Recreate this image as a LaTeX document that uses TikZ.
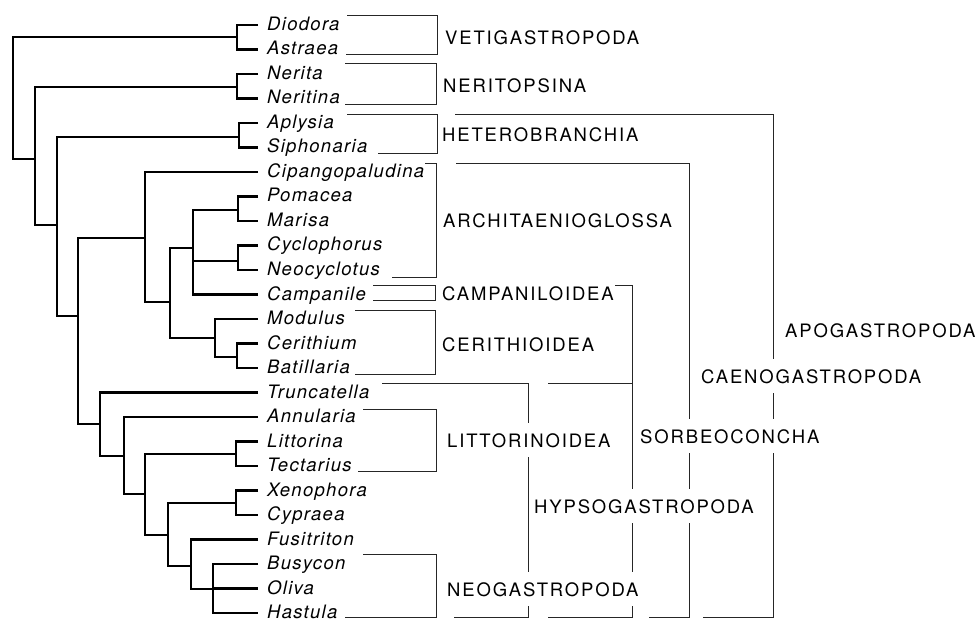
\documentclass[tikz,border=0pt]{standalone}
\usepackage{fontspec}
\newfontfamily\labfont{TeX Gyre Heros}[LetterSpace=10]
\newfontfamily\taxfont{TeX Gyre Heros}[LetterSpace=7]
\begin{document}
\begin{tikzpicture}[x=1pt,y=-1pt,
  tree/.style={line width=2.2pt, line join=miter},
  brk/.style={line width=0.9pt, black!85},
  taxon/.style={anchor=base west, inner sep=0pt, font=\taxfont\itshape\fontsize{18.5}{20}\selectfont},
  clade/.style={anchor=base west, inner xsep=1pt, inner ysep=10pt, font=\labfont\fontsize{18.5}{20}\selectfont},
  knock/.style={fill=white}]
\useasboundingbox (0,0) rectangle (976,620);

% leaves
\foreach \nm [count=\i from 0] in {Diodora,Astraea,Nerita,Neritina,Aplysia,Siphonaria,Cipangopaludina,Pomacea,Marisa,Cyclophorus,Neocyclotus,Campanile,Modulus,Cerithium,Batillaria,Truncatella,Annularia,Littorina,Tectarius,Xenophora,Cypraea,Fusitriton,Busycon,Oliva,Hastula}{
  \pgfmathsetmacro\yy{25+24.5*\i}
  \coordinate (t\i) at (258,\yy);
  \node[taxon] (n\i) at (267,\yy+5.5) {\nm};
}

% internal nodes (x, stem y)
\coordinate (R) at (13,100);
\coordinate (A) at (237,37);
\coordinate (B) at (35,159);
\coordinate (N) at (237,87);
\coordinate (C) at (57,225);
\coordinate (H) at (239,137);
\coordinate (D) at (78,316);
\coordinate (E) at (145,238);
\coordinate (F) at (170,302);
\coordinate (G) at (193,248);
\coordinate (PM) at (238,210);
\coordinate (CN) at (238,261);
\coordinate (K) at (215,338);
\coordinate (CB) at (237,357);
\coordinate (L) at (100,424);
\coordinate (M) at (124,456);
\coordinate (P) at (145,494);
\coordinate (LT) at (236,454);
\coordinate (Q) at (168,535);
\coordinate (XC) at (236,503);
\coordinate (S) at (191,566);
\coordinate (T) at (213,589);

\begin{scope}[tree]
\draw (t0) -| (A) |- (t1);
\draw (t2) -| (N) |- (t3);
\draw (t4) -| (H) |- (t5);
\draw (t7) -| (PM) |- (t8);
\draw (t9) -| (CN) |- (t10);
\draw (t13) -| (CB) |- (t14);
\draw (t17) -| (LT) |- (t18);
\draw (t19) -| (XC) |- (t20);
\draw (t22) -| (T) |- (t24);
\draw (T |- t23) -- (t23);
\draw (A) -| (R) |- (B);
\draw (N) -| (B) |- (C);
\draw (H) -| (C) |- (D);
\draw (E) -| (D) |- (L);
\draw (t6) -| (E) |- (F);
\draw (G) -| (F) |- (K);
\draw (PM) -| (G) |- (t11);
\draw (G |- CN) -- (CN);
\draw (t12) -| (K) |- (CB);
\draw (t15) -| (L) |- (M);
\draw (t16) -| (M) |- (P);
\draw (LT) -| (P) |- (Q);
\draw (XC) -| (Q) |- (S);
\draw (t21) -| (S) |- (T);
\end{scope}

% brackets
\begin{scope}[brk]
\draw (347,15) -| (437,54) -- (346,54);
\draw (345,63) -| (436,104) -- (345,104);
\draw (347,114) -| (437,153) -- (378,153);
\draw (425,163) -| (436,277) -- (392,277);
\draw (373,285) -| (435,300) -- (373,300);
\draw (355,310) -| (435,374) -- (355,374);
\draw (363,409) -| (436,471) -- (358,471);
\draw (363,554) -| (436,617) -- (345,617);
\draw (382,383) -| (528,617) -- (454,617);
\draw (548,383) -- (632,383);
\draw (615,285) -| (632,617) -- (548,617);
\draw (456,163) -| (689,617) -- (649,617);
\draw (455,114) -| (773,617) -- (703,617);
\end{scope}

% clade labels
\node[clade] (vet) at (444,45) {VETIGASTROPODA};
\node[clade] (ner) at (442,93) {NERITOPSINA};
\node[clade] (het) at (441,142) {HETEROBRANCHIA};
\node[clade] (arc) at (442,228) {ARCHITAENIOGLOSSA};
\node[clade] (cam) at (441,300) {CAMPANILOIDEA};
\node[clade] (cer) at (441,351) {CERITHIOIDEA};
\node[clade,knock] (lit) at (446,447) {LITTORINOIDEA};
\node[clade,knock] (hyp) at (533,513) {HYPSOGASTROPODA};
\node[clade,knock] (neo) at (446,596) {NEOGASTROPODA};
\node[clade,knock] (sor) at (639,443) {SORBEOCONCHA};
\node[clade,knock] (cae) at (700,383) {CAENOGASTROPODA};
\node[clade] (apo) at (784,337) {APOGASTROPODA};
\end{tikzpicture}
\end{document}
